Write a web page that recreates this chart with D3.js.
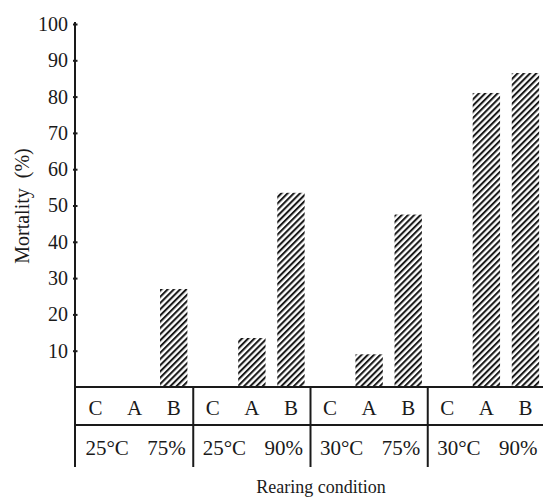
<!DOCTYPE html>
<html>
<head>
<meta charset="utf-8">
<script src="https://cdn.jsdelivr.net/npm/d3@7"></script>
<style>
  html, body { margin: 0; padding: 0; background: #fff; }
  svg { display: block; }
  text { font-family: "Liberation Serif", "DejaVu Serif", serif; fill: #1a1a1a; }
</style>
</head>
<body>
<svg id="chart" width="543" height="497"></svg>
<script>
// ---- data ----
const conditions = ["25°C  75%", "25°C  90%", "30°C  75%", "30°C  90%"];
const treatments = ["C", "A", "B"];
const mortality = [
  [0, 0, 27],
  [0, 13.5, 53.5],
  [0, 9, 47.5],
  [0, 81, 86.5]
];
const yTicks = [10, 20, 30, 40, 50, 60, 70, 80, 90, 100];
const yTitle = "Mortality  (%)";
const xTitle = "Rearing condition";

// ---- layout ----
const svg = d3.select("#chart");
const axisX = 75, yTop = 22, baseY = 387, rowY = 425, tableBottom = 467, rightX = 545;

const y = d3.scaleLinear().domain([0, 100]).range([baseY, 24]);
const xGroup = d3.scaleBand().domain(conditions).range([76, rightX]).padding(0);
const xInner = d3.scaleBand().domain(treatments).range([0, xGroup.bandwidth()])
  .paddingInner(0.3).paddingOuter(0.15);

// hatch pattern
const defs = svg.append("defs");
const P = 4.4;
const pat = defs.append("pattern")
  .attr("id", "hatch")
  .attr("patternUnits", "userSpaceOnUse")
  .attr("width", P).attr("height", P)
  .attr("patternTransform", "rotate(45)");
pat.append("rect").attr("width", P).attr("height", P).attr("fill", "#fff");
pat.append("line").attr("x1", 1).attr("y1", 0).attr("x2", 1).attr("y2", P)
  .attr("stroke", "#1a1a1a").attr("stroke-width", 2.1);

// bars
const rows = conditions.map((c, i) => treatments.map((t, j) => ({ c, t, v: mortality[i][j] })));
svg.append("g").selectAll("g").data(rows).join("g")
  .attr("transform", d => `translate(${xGroup(d[0].c)},0)`)
  .selectAll("rect").data(d => d.filter(e => e.v > 0)).join("rect")
  .attr("x", d => xInner(d.t))
  .attr("width", xInner.bandwidth())
  .attr("y", d => y(d.v))
  .attr("height", d => baseY - y(d.v))
  .attr("fill", "url(#hatch)");

// y axis
const yAxis = d3.axisLeft(y).tickValues(yTicks).tickSizeInner(3).tickSizeOuter(0).tickPadding(4)
  .tickFormat(d3.format("d"));
const gy = svg.append("g").attr("transform", `translate(${axisX},0)`).call(yAxis);
gy.select(".domain").remove();
gy.selectAll(".tick line").attr("x1", -2).attr("x2", 2.5).attr("stroke", "#1a1a1a").attr("stroke-width", 2);
gy.selectAll(".tick text").attr("font-size", 20).attr("font-family", "Liberation Serif").attr("fill", "#1a1a1a");

const lines = svg.append("g").attr("stroke", "#1a1a1a").attr("stroke-width", 2);
lines.append("line").attr("x1", axisX).attr("x2", axisX).attr("y1", yTop).attr("y2", tableBottom);
lines.append("line").attr("x1", axisX).attr("x2", rightX).attr("y1", baseY).attr("y2", baseY);
lines.append("line").attr("x1", axisX).attr("x2", rightX).attr("y1", rowY).attr("y2", rowY);
lines.selectAll("line.div").data(conditions.slice(1)).join("line").attr("class", "div")
  .attr("x1", d => xGroup(d)).attr("x2", d => xGroup(d))
  .attr("y1", baseY).attr("y2", tableBottom);

// table labels
const tg = svg.append("g").selectAll("g").data(conditions).join("g")
  .attr("transform", d => `translate(${xGroup(d)},0)`);
tg.selectAll("text.t").data(treatments).join("text").attr("class", "t")
  .attr("x", d => xInner(d) + xInner.bandwidth() / 2)
  .attr("y", 415)
  .attr("text-anchor", "middle")
  .attr("font-size", 21)
  .text(d => d);
tg.append("text")
  .attr("x", xGroup.bandwidth() / 2 + 1)
  .attr("y", 455)
  .attr("text-anchor", "middle")
  .attr("font-size", 21)
  .attr("word-spacing", 4)
  .style("white-space", "pre")
  .text(d => d);

// titles
svg.append("text")
  .attr("x", 321).attr("y", 493)
  .attr("text-anchor", "middle").attr("font-size", 18)
  .text(xTitle);
svg.append("text")
  .attr("transform", "translate(29,206) rotate(-90)")
  .attr("text-anchor", "middle").attr("font-size", 20)
  .style("white-space", "pre")
  .text(yTitle);
</script>
</body>
</html>
